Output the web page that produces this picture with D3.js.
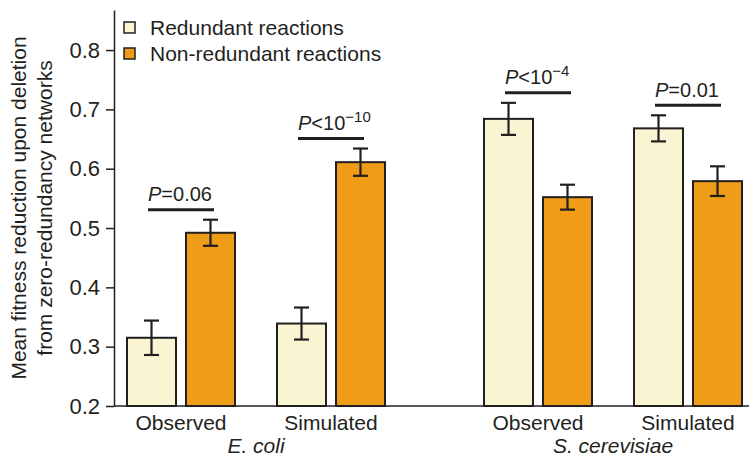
<!DOCTYPE html>
<html>
<head>
<meta charset="utf-8">
<script src="https://cdn.jsdelivr.net/npm/d3@7"></script>
<style>
  body { margin: 0; background: #fff; }
  text { font-family: "Liberation Sans", Arial, Helvetica, sans-serif; fill: #231f20; }
</style>
</head>
<body>
<svg id="chart" width="749" height="456"></svg>
<script>
// data
const species = ["E. coli", "S. cerevisiae"];
const conditions = ["Observed", "Simulated"];
const reaction_types = ["Redundant reactions", "Non-redundant reactions"];

// order: E. coli obs, E. coli sim, S. cerevisiae obs, S. cerevisiae sim
const redundant_mean = [0.315, 0.339, 0.684, 0.668];
const redundant_err = [0.029, 0.027, 0.027, 0.022];
const nonredundant_mean = [0.492, 0.611, 0.552, 0.579];
const nonredundant_err = [0.022, 0.023, 0.021, 0.025];

const p_relation = ["=", "<", "<", "="];
const p_value = ["0.06", "10", "10", "0.01"];
const p_exponent = [null, "\u221210", "\u22124", null];

const y_ticks = [0.2, 0.3, 0.4, 0.5, 0.6, 0.7, 0.8];

const colors = { "Redundant reactions": "#f9f5d3", "Non-redundant reactions": "#ef9c18" };
const stroke = "#231f20";
const font_size = 21;

// rows for bars
const groups = [];
species.forEach((s, i) => {
    conditions.forEach((c, j) => {
        const k = i * 2 + j;
        groups.push({
            species: s, condition: c, idx: k,
            bars: [
                { type: reaction_types[0], mean: redundant_mean[k], err: redundant_err[k] },
                { type: reaction_types[1], mean: nonredundant_mean[k], err: nonredundant_err[k] }
            ]
        });
    });
});

const svg = d3.select("#chart");

const y = d3.scaleLinear().domain([0.2, 0.8675]).range([406, 10]);

const x_species = d3.scaleBand().domain(species).range([106, 763])
    .paddingInner(57 / 357).paddingOuter(0);
const x_cond = d3.scaleBand().domain(conditions).range([0, x_species.bandwidth()]).padding(0);
const x_type = d3.scaleBand().domain(reaction_types).range([0, x_cond.bandwidth()])
    .paddingInner(10 / 59).paddingOuter(0.356);

const group_x = d => x_species(d.species) + x_cond(d.condition);

// y axis
const y_axis = svg.append("g")
    .attr("transform", "translate(114,0)")
    .call(d3.axisLeft(y).tickValues(y_ticks).tickSize(8).tickSizeOuter(0).tickPadding(6)
        .tickFormat(d3.format(".1f")));
y_axis.selectAll("path, line").attr("stroke", stroke).attr("stroke-width", 1.5);
y_axis.selectAll("text").attr("font-size", 22).attr("fill", stroke)
    .attr("font-family", "'Liberation Sans', Arial, sans-serif");

// bottom line
svg.append("line")
    .attr("x1", 114).attr("x2", 749)
    .attr("y1", y(0.2)).attr("y2", y(0.2))
    .attr("stroke", stroke).attr("stroke-width", 1.5);

// bars
const g_groups = svg.append("g").selectAll("g")
    .data(groups)
    .enter().append("g")
    .attr("transform", d => `translate(${group_x(d)},0)`);

g_groups.selectAll("rect")
    .data(d => d.bars)
    .enter().append("rect")
    .attr("x", d => x_type(d.type))
    .attr("y", d => y(d.mean))
    .attr("width", x_type.bandwidth())
    .attr("height", d => y(0.2) - y(d.mean))
    .attr("fill", d => colors[d.type])
    .attr("stroke", stroke)
    .attr("stroke-width", 2);

// error bars
const cap = 7.5;
const err = g_groups.selectAll("g.err")
    .data(d => d.bars)
    .enter().append("g")
    .attr("class", "err")
    .attr("stroke", stroke)
    .attr("stroke-width", 2.2);
err.append("line")
    .attr("x1", d => x_type(d.type) + x_type.bandwidth() / 2)
    .attr("x2", d => x_type(d.type) + x_type.bandwidth() / 2)
    .attr("y1", d => y(d.mean + d.err))
    .attr("y2", d => y(d.mean - d.err));
err.append("line")
    .attr("x1", d => x_type(d.type) + x_type.bandwidth() / 2 - cap)
    .attr("x2", d => x_type(d.type) + x_type.bandwidth() / 2 + cap)
    .attr("y1", d => y(d.mean + d.err))
    .attr("y2", d => y(d.mean + d.err));
err.append("line")
    .attr("x1", d => x_type(d.type) + x_type.bandwidth() / 2 - cap)
    .attr("x2", d => x_type(d.type) + x_type.bandwidth() / 2 + cap)
    .attr("y1", d => y(d.mean - d.err))
    .attr("y2", d => y(d.mean - d.err));

// p-value annotations, sitting above the taller error bar
const p_half = 33;
groups.forEach(d => {
    const cx = group_x(d) + x_cond.bandwidth() / 2;
    const top = d3.min(d.bars, b => y(b.mean + b.err));
    const ly = top - 10;
    svg.append("line")
        .attr("x1", cx - p_half).attr("x2", cx + p_half)
        .attr("y1", ly).attr("y2", ly)
        .attr("stroke", stroke).attr("stroke-width", 3);
    const t = svg.append("text")
        .attr("x", cx - p_half).attr("y", ly - 8.5)
        .attr("font-size", 20);
    t.append("tspan").attr("font-style", "italic").text("P");
    t.append("tspan").text(p_relation[d.idx] + p_value[d.idx]);
    if (p_exponent[d.idx]) {
        t.append("tspan").attr("font-size", 15).attr("dy", -8).text(p_exponent[d.idx]);
    }
});

// x labels
groups.forEach(d => {
    svg.append("text")
        .attr("x", group_x(d) + x_cond.bandwidth() / 2)
        .attr("y", 430)
        .attr("text-anchor", "middle")
        .attr("font-size", font_size)
        .text(d.condition);
});
species.forEach(s => {
    svg.append("text")
        .attr("x", x_species(s) + x_species.bandwidth() / 2)
        .attr("y", 453)
        .attr("text-anchor", "middle")
        .attr("font-size", font_size)
        .attr("font-style", "italic")
        .text(s);
});

// y label
const y_label = svg.append("text")
    .attr("transform", `translate(0,${(y.range()[0] + y.range()[1]) / 2}) rotate(-90)`)
    .attr("text-anchor", "middle")
    .attr("font-size", font_size);
y_label.append("tspan").attr("x", 0).attr("y", 26).text("Mean fitness reduction upon deletion");
y_label.append("tspan").attr("x", 0).attr("y", 52).text("from zero-redundancy networks");

// legend
const legend = svg.append("g").selectAll("g")
    .data(reaction_types)
    .enter().append("g")
    .attr("transform", (d, i) => `translate(124,${22 + i * 26})`);
legend.append("rect")
    .attr("width", 11).attr("height", 11)
    .attr("fill", d => colors[d])
    .attr("stroke", stroke).attr("stroke-width", 1.5);
legend.append("text")
    .attr("x", 26).attr("y", 13)
    .attr("font-size", font_size)
    .text(d => d);
</script>
</body>
</html>
